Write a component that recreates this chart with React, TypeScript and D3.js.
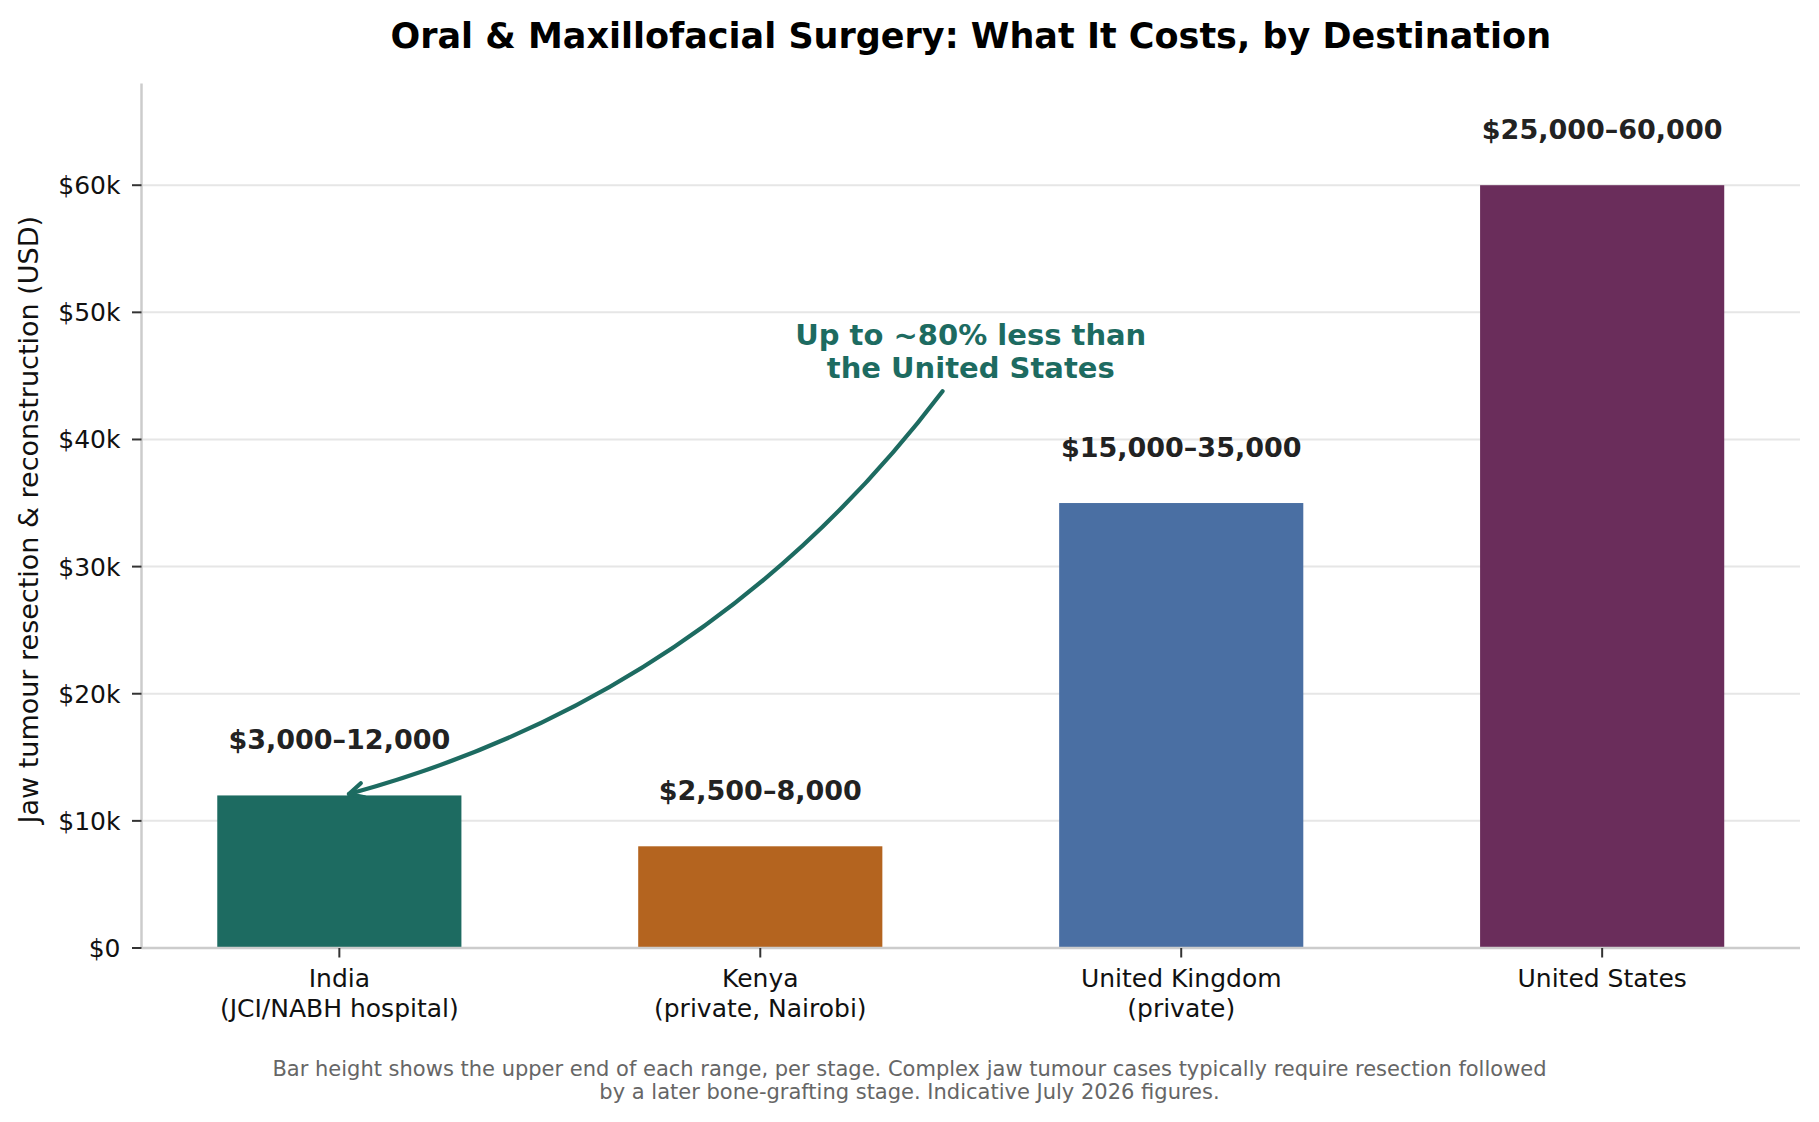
import * as d3 from 'd3';
import React, { useEffect, useRef } from 'react';

// destinations and their cost ranges (USD, per stage)
const categories = ['India', 'Kenya', 'United Kingdom', 'United States'];
const subLabels = ['(JCI/NABH hospital)', '(private, Nairobi)', '(private)', ''];
const lowCost = [3000, 2500, 15000, 25000];
const highCost = [12000, 8000, 35000, 60000];
const barColors = ['#1d6b61', '#b4641f', '#4a6fa3', '#6a2d5b'];
const yTicks = [0, 10000, 20000, 30000, 40000, 50000, 60000];

const titleText = 'Oral & Maxillofacial Surgery: What It Costs, by Destination';
const yLabel = 'Jaw tumour resection & reconstruction (USD)';
const noteLines = ['Up to ~80% less than', 'the United States'];
const footerLines = [
  'Bar height shows the upper end of each range, per stage. Complex jaw tumour cases typically require resection followed',
  'by a later bone-grafting stage. Indicative July 2026 figures.',
];

const W = 1819;
const H = 1122;
const left = 141.5;
const right = 1800;
const top = 83.5;
const bottom = 948;
const font = 'DejaVu Sans, sans-serif';
const teal = '#1d6b61';

const App = () => {
  const svgRef = useRef(null);

  useEffect(() => {
    const svg = d3.select(svgRef.current);
    svg.selectAll('*').remove();

    const x = d3.scaleBand().domain(categories).range([left, right]).paddingInner(0.42).paddingOuter(0.18);
    const y = d3.scaleLinear().domain([0, 68000]).range([bottom, top]);
    const cx = (i) => x(categories[i]) + x.bandwidth() / 2;
    const fmt = d3.format(',');

    // grid
    svg
      .append('g')
      .selectAll('line')
      .data(yTicks.filter((t) => t > 0))
      .join('line')
      .attr('x1', left)
      .attr('x2', right)
      .attr('y1', (d) => y(d))
      .attr('y2', (d) => y(d))
      .attr('stroke', '#e6e6e6')
      .attr('stroke-width', 2);

    // bars
    svg
      .append('g')
      .selectAll('rect')
      .data(highCost)
      .join('rect')
      .attr('x', (d, i) => x(categories[i]))
      .attr('width', x.bandwidth())
      .attr('y', (d) => y(d))
      .attr('height', (d) => bottom - y(d))
      .attr('fill', (d, i) => barColors[i]);

    // spines
    svg.append('line').attr('x1', left).attr('x2', left).attr('y1', top).attr('y2', bottom)
      .attr('stroke', '#cccccc').attr('stroke-width', 2.5);
    svg.append('line').attr('x1', left).attr('x2', right).attr('y1', bottom).attr('y2', bottom)
      .attr('stroke', '#cccccc').attr('stroke-width', 2.5);

    // y ticks
    const yt = svg.append('g').selectAll('g').data(yTicks).join('g')
      .attr('transform', (d) => `translate(0,${y(d)})`);
    yt.append('line').attr('x1', left - 9.5).attr('x2', left).attr('stroke', '#333').attr('stroke-width', 2);
    yt.append('text')
      .attr('x', left - 21)
      .attr('y', 9)
      .attr('text-anchor', 'end')
      .attr('font-family', font)
      .attr('font-size', 25)
      .attr('fill', '#111')
      .text((d) => (d === 0 ? '$0' : `$${d / 1000}k`));

    // x ticks
    const xt = svg.append('g').selectAll('g').data(categories).join('g')
      .attr('transform', (d, i) => `translate(${cx(i)},0)`);
    xt.append('line').attr('y1', bottom).attr('y2', bottom + 9.5).attr('stroke', '#333').attr('stroke-width', 2);
    xt.append('text')
      .attr('y', 987)
      .attr('text-anchor', 'middle')
      .attr('font-family', font)
      .attr('font-size', 25)
      .attr('fill', '#111')
      .text((d) => d);
    xt.append('text')
      .attr('y', 1017)
      .attr('text-anchor', 'middle')
      .attr('font-family', font)
      .attr('font-size', 25)
      .attr('fill', '#111')
      .text((d, i) => subLabels[i]);

    // value labels
    svg
      .append('g')
      .selectAll('text')
      .data(highCost)
      .join('text')
      .attr('x', (d, i) => cx(i))
      .attr('y', (d) => y(d) - 46)
      .attr('text-anchor', 'middle')
      .attr('font-family', font)
      .attr('font-size', 27)
      .attr('font-weight', 'bold')
      .attr('fill', '#222')
      .text((d, i) => `$${fmt(lowCost[i])}–${fmt(d)}`);

    // title
    svg.append('text')
      .attr('x', (left + right) / 2)
      .attr('y', 47.5)
      .attr('text-anchor', 'middle')
      .attr('font-family', font)
      .attr('font-size', 35)
      .attr('font-weight', 'bold')
      .attr('fill', '#000')
      .text(titleText);

    // y label
    svg.append('text')
      .attr('transform', `translate(38,${(top + bottom) / 2 + 4}) rotate(-90)`)
      .attr('text-anchor', 'middle')
      .attr('font-family', font)
      .attr('font-size', 27)
      .attr('fill', '#111')
      .text(yLabel);

    // annotation text
    const noteX = (cx(1) + cx(2)) / 2;
    svg.append('g').selectAll('text').data(noteLines).join('text')
      .attr('x', noteX)
      .attr('y', (d, i) => 345 + i * 33)
      .attr('text-anchor', 'middle')
      .attr('font-family', font)
      .attr('font-size', 29)
      .attr('font-weight', 'bold')
      .attr('fill', teal)
      .text((d) => d);

    // curved arrow (arc3-like) from below the note to the top of the India bar
    const x0 = cx(0) + 1.433 * x.step();
    const y0 = y(43800);
    const tx = cx(0) + 0.01 * x.step();
    const ty = y(highCost[0]);
    const rad = 0.17;
    const mx = (x0 + tx) / 2;
    const my = (y0 + ty) / 2;
    const dx = tx - x0;
    const dy = ty - y0;
    const ccx = mx + rad * dy;
    const ccy = my - rad * dx;
    // shrink the tip a little
    const ex = tx - ccx;
    const ey = ty - ccy;
    const el = Math.hypot(ex, ey);
    const ux = ex / el;
    const uy = ey / el;
    const x1 = tx - ux * 5.6;
    const y1 = ty - uy * 5.6;
    const p = d3.path();
    p.moveTo(x0, y0);
    p.quadraticCurveTo(ccx, ccy, x1, y1);
    svg.append('path').attr('d', p.toString()).attr('fill', 'none').attr('stroke', teal)
      .attr('stroke-width', 4.2).attr('stroke-linecap', 'round');
    const hl = 16;
    const ha = (27 * Math.PI) / 180;
    const ang = Math.atan2(uy, ux);
    const hp = d3.path();
    hp.moveTo(x1 - hl * Math.cos(ang - ha), y1 - hl * Math.sin(ang - ha));
    hp.lineTo(x1, y1);
    hp.lineTo(x1 - hl * Math.cos(ang + ha), y1 - hl * Math.sin(ang + ha));
    svg.append('path').attr('d', hp.toString()).attr('fill', 'none').attr('stroke', teal)
      .attr('stroke-width', 4.2).attr('stroke-linecap', 'round').attr('stroke-linejoin', 'round');

    // footer
    svg.append('g').selectAll('text').data(footerLines).join('text')
      .attr('x', W / 2)
      .attr('y', (d, i) => 1076 + i * 23)
      .attr('text-anchor', 'middle')
      .attr('font-family', font)
      .attr('font-size', 21)
      .attr('fill', '#666')
      .text((d) => d);
  }, []);

  return (
    <svg
      ref={svgRef}
      width={W}
      height={H}
      style={{ position: 'absolute', left: 0, top: 0, background: '#fff', display: 'block' }}
    />
  );
};

export default App;
